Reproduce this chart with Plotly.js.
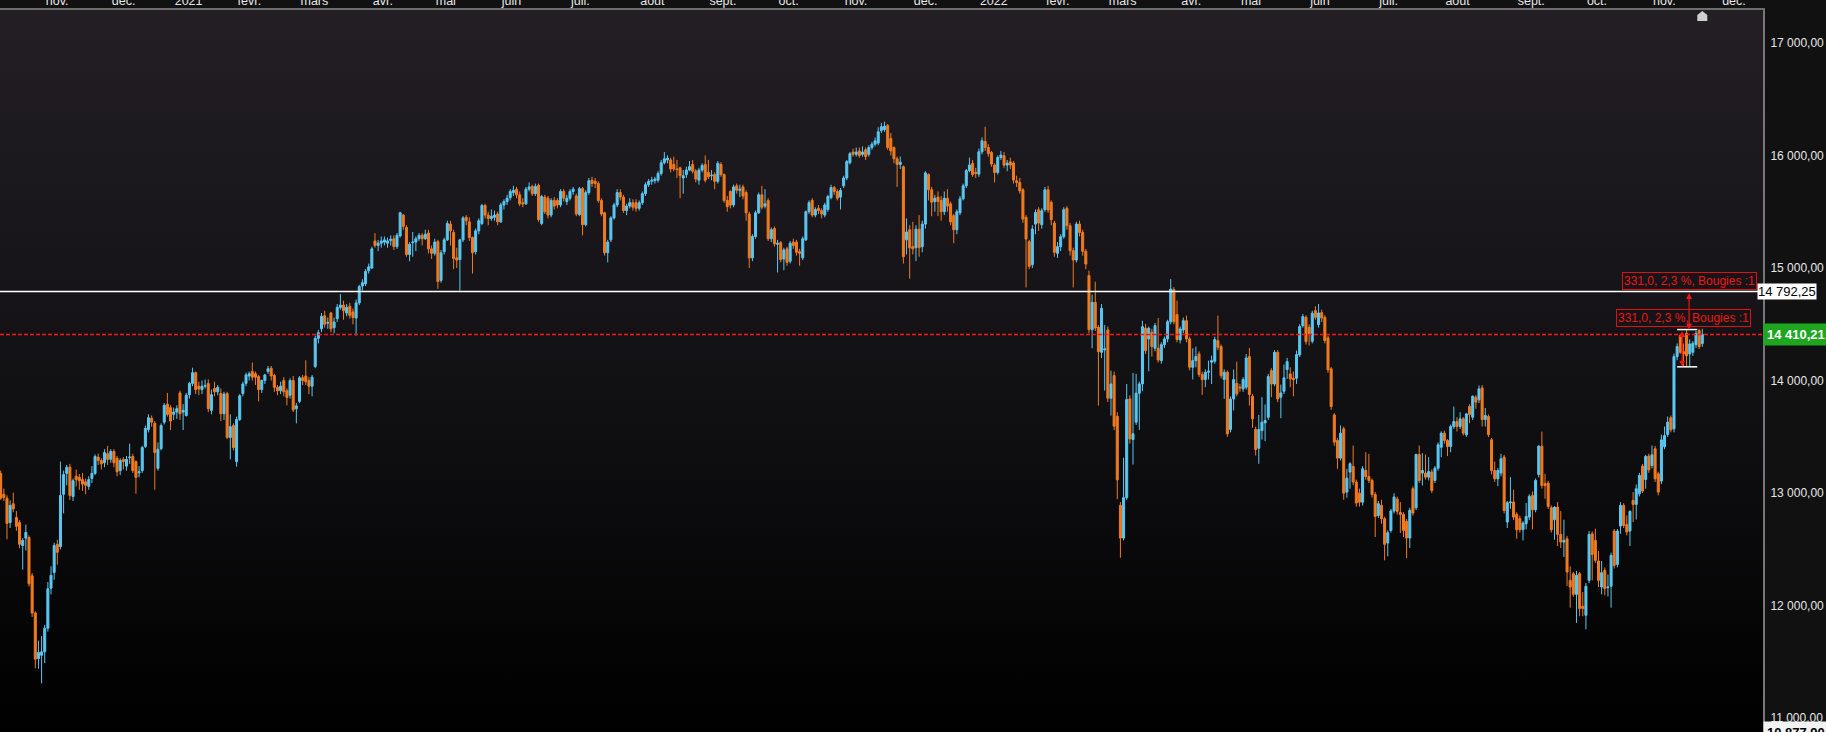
<!DOCTYPE html>
<html>
<head>
<meta charset="utf-8">
<script src="https://cdn.plot.ly/plotly-3.0.1.min.js"></script>
<style>
  html, body { margin: 0; padding: 0; background: #111111; }
  #chart { width: 1826px; height: 732px; }
</style>
</head>
<body>
<div id="chart"></div>
<script>
// ======== DATA (daily bars, one line per month) ========
var OPEN = [
  13175,12990,12955,12740,12905,12785,12740,12535,12600,12605,12265,11935,11530,11560,
  11590,11800,12155,12295,12545,12525,12990,13175,13230,12970,13150,13140,13120,13100,13060,13130,13175,13320,13290,13270,13350,
  13300,13370,13310,13200,13300,13240,13315,13325,13280,13180,13200,13415,13565,13665,13620,13220,13395,13630,13790,13760,
  13700,13720,13890,13720,13690,13875,13975,14070,13950,13920,13950,13975,13735,13930,13900,13885,13705,13885,13495,13600,
  13280,13655,13885,13975,14040,14080,14060,14035,13920,14000,14080,14110,14045,13940,13910,14000,13910,13870,14000,13750,
  13815,14025,14040,14000,13950,14125,14375,14460,14575,14510,14600,14470,14550,14650,14670,14600,14660,14610,14555,14690,14840,14860,14975,
  15000,15240,15200,15220,15230,15220,15245,15260,15190,15285,15470,15360,15120,15225,15230,15260,15290,15260,15310,15170,
  15130,15235,14890,15145,15250,15390,15315,15090,15075,15250,15450,15410,15270,15145,15330,15395,15555,15470,15440,15450,15480,
  15410,15560,15590,15625,15670,15700,15650,15580,15570,15700,15725,15660,15735,15395,15630,15620,15470,15600,15600,15560,15680,15590,
  15620,15680,15640,15475,15705,15385,15670,15780,15770,15750,15600,15490,15135,15250,15445,15560,15670,15630,15510,15550,15580,15580,
  15530,15580,15660,15740,15770,15775,15780,15840,15935,15960,15960,15920,15880,15890,15800,15830,15870,15920,15860,15780,15870,15920,
  15850,15820,15830,15770,15920,15830,15600,15680,15560,15730,15690,15720,15670,15480,15090,15280,15490,15650,15550,15600,15260,15350,
  15210,15225,15080,15170,15060,15230,15230,15145,15090,15250,15500,15600,15470,15530,15510,15470,15520,15625,15715,15680,15630,
  15730,15800,15935,16030,16010,16040,16010,16050,16010,16070,16100,16110,16220,16230,16265,16150,16070,15970,15920,15900,15250,15340,
  15190,15180,15345,15190,15390,15830,15695,15590,15630,15600,15500,15620,15570,15465,15340,15490,15615,15730,15865,15930,15850,
  15834,16032,16124,16071,16026,15914,15849,15982,15997,15914,15943,15932,15775,15760,15695,15450,15233,15030,15390,15518,15385,
  15518,15695,15583,15399,15130,15189,15278,15530,15376,15154,15071,15390,15316,15148,14932,14452,14695,14473,14251,14272,
  14450,13843,14044,13683,12891,12601,12959,13837,13476,13630,13888,13970,14467,14370,14429,14287,14287,14177,14319,14370,14523,14807,14586,
  14361,14450,14532,14370,14118,14177,14237,14053,14009,14074,14163,14171,14355,14302,14009,14074,13565,13837,13976,
  13941,13926,13941,14213,13861,13565,13399,13556,13624,13674,14088,13970,14251,13852,13905,14098,14059,14021,14021,14228,14488,14562,
  14473,14349,14621,14497,14603,14562,14379,14104,13695,13468,13311,13571,13009,13187,13237,13098,13000,12920,13201,13148,13113,12988,
  12802,12891,12773,12557,12669,12841,12947,12829,12811,12749,12601,13039,12870,13343,13178,13178,13142,13187,13113,13222,13408,
  13533,13468,13414,13592,13636,13592,13660,13518,13769,13675,13852,13829,13935,13654,13681,13474,13201,13127,13178,13320,12743,12915,12921,
  12811,12773,12675,12728,12787,12980,12852,13166,13417,13083,13089,12870,12764,12876,12634,12565,12595,12225,12284,12101,12284,11995,
  11915,12225,12639,12580,12397,12166,12314,12160,12172,12663,12367,12707,12891,12722,12663,12935,12900,12994,13240,13121,13329,
  13246,13394,13172,13107,13414,13521,13669,13571,14213,14399,14257,14420,14237,14251,14320,14444,14330
];
var HIGH = [
  13200,13040,12980,12935,13005,12840,12760,12600,12720,12625,12290,11950,11690,11730,
  11830,12210,12350,12560,12585,13280,13200,13250,13260,13130,13210,13170,13180,13130,13150,13240,13345,13350,13310,13390,13420,
  13390,13390,13330,13310,13320,13330,13440,13350,13290,13240,13420,13600,13700,13690,13640,13450,13620,13800,13890,13780,
  13760,13780,13910,13790,13890,13990,14115,14080,13990,14000,14010,14010,13920,13990,13960,13930,13900,13900,13700,13620,
  13680,13880,13990,14070,14080,14160,14080,14050,14010,14060,14130,14130,14060,13960,13990,14030,13930,14020,14040,13800,
  14040,14050,14180,14030,14050,14400,14450,14600,14620,14560,14610,14560,14680,14770,14710,14680,14690,14640,14720,14850,14900,14990,15040,
  15190,15310,15250,15280,15280,15270,15290,15290,15310,15500,15480,15380,15230,15320,15280,15310,15310,15340,15340,15200,
  15260,15250,15160,15270,15420,15420,15340,15180,15260,15460,15470,15450,15280,15350,15440,15570,15570,15500,15520,15510,15500,
  15580,15610,15650,15700,15730,15720,15680,15620,15720,15760,15740,15750,15750,15650,15650,15640,15620,15630,15620,15700,15700,15650,
  15700,15720,15660,15720,15720,15690,15800,15810,15800,15770,15620,15500,15250,15460,15580,15700,15700,15650,15570,15620,15610,15610,
  15600,15680,15760,15790,15810,15810,15860,15960,16030,16000,15980,15990,15960,15900,15870,15900,15950,15960,15880,15890,15930,16000,
  15960,15870,15850,15950,15940,15840,15640,15690,15740,15750,15740,15740,15690,15500,15300,15510,15670,15730,15700,15620,15360,15370,
  15250,15240,15180,15190,15240,15260,15250,15170,15280,15510,15600,15620,15540,15560,15530,15580,15650,15740,15730,15700,15710,
  15820,15960,16030,16060,16070,16070,16080,16070,16090,16120,16160,16250,16290,16300,16280,16200,16080,15990,15990,15910,15440,15380,
  15410,15380,15470,15420,15860,15840,15720,15650,15680,15640,15680,15700,15590,15480,15520,15640,15750,15880,15980,15960,15890,
  16060,16160,16254,16100,16040,15930,16000,16040,16030,15960,15980,15950,15820,15800,15710,15470,15250,15380,15520,15540,15530,
  15720,15730,15600,15420,15230,15300,15540,15550,15400,15180,15410,15420,15340,15170,14976,14763,14878,14494,14680,14494,
  14480,14088,14080,13720,12920,13314,13970,13870,14068,14059,13991,14532,14503,14480,14460,14510,14556,14340,14390,14540,14902,14830,14710,
  14480,14560,14577,14390,14287,14302,14260,14080,14100,14177,14222,14390,14577,14320,14100,14090,13860,14097,14168,
  13970,14030,14236,14290,13880,13590,13695,13852,13787,14060,14109,14270,14270,13964,14142,14201,14118,14080,14266,14500,14592,14580,
  14500,14620,14660,14680,14630,14580,14400,14120,13710,13490,13601,13590,13216,13275,13423,13120,13040,13240,13364,13349,13130,13010,
  12930,12941,12790,12669,12860,12999,12970,12920,12830,12770,12870,13060,13350,13423,13355,13343,13320,13210,13240,13450,13550,
  13556,13480,13610,13769,13675,13719,13675,13710,13790,13867,13870,13956,13960,13757,13700,13490,13281,13222,13349,13340,12930,13142,13030,
  12830,12800,12750,12912,12990,13015,13130,13425,13547,13172,13110,12890,12882,12920,12840,12764,12620,12350,12300,12309,12300,12122,
  12201,12663,12660,12684,12485,12397,12340,12278,12471,12680,12680,12920,12910,12802,12846,13009,13077,13180,13260,13340,13350,
  13423,13420,13190,13520,13592,13680,13690,14240,14330,14414,14330,14453,14365,14350,14440,14460,14460
];
var LOW = [
  12940,12930,12590,12690,12830,12665,12510,12320,12490,12170,11900,11445,11440,11310,
  11490,11770,12100,12230,12365,12500,12820,13070,12940,12930,13060,13030,13020,12990,13030,13090,13160,13250,13210,13230,13250,
  13270,13230,13150,13160,13210,13200,13260,13180,12995,13140,13180,13400,13540,13590,13030,13200,13380,13610,13680,13560,
  13650,13660,13650,13560,13680,13840,13950,13880,13870,13880,13930,13720,13700,13860,13870,13640,13650,13480,13300,13380,
  13235,13640,13860,13950,14000,14000,13960,13815,13890,13970,14060,14000,13900,13870,13880,13860,13780,13840,13720,13620,
  13800,13960,13960,13880,13860,14110,14330,14430,14470,14460,14430,14420,14520,14630,14540,14570,14550,14500,14400,14670,14800,14840,14950,
  14990,15180,15150,15180,15200,15180,15200,15160,15170,15270,15340,15100,15060,15100,15150,15240,15200,15250,15130,15080,
  15110,14815,14870,15120,15240,15200,14990,15000,14800,15230,15380,15240,14950,15120,15300,15380,15440,15380,15420,15420,15380,
  15400,15520,15560,15600,15640,15620,15550,15540,15560,15680,15640,15640,15410,15380,15480,15440,15450,15520,15530,15540,15590,15560,
  15600,15650,15460,15460,15290,15370,15650,15720,15710,15580,15460,15110,15050,15230,15430,15540,15600,15490,15470,15530,15510,15500,
  15510,15560,15640,15720,15740,15750,15760,15820,15920,15930,15850,15860,15800,15620,15660,15800,15860,15840,15760,15740,15850,15760,
  15790,15780,15700,15750,15810,15580,15500,15530,15540,15660,15630,15610,15420,15000,15060,15260,15480,15520,15530,15240,15230,15190,
  14960,15050,14980,15020,15040,15170,15110,15020,15070,15240,15480,15450,15450,15480,15440,15450,15500,15610,15650,15600,15520,
  15710,15780,15920,15990,15990,15980,15990,15960,15990,16050,16080,16090,16200,16210,16050,16000,15930,15720,15880,15040,15120,14905,
  15120,15060,15100,15140,15350,15600,15460,15500,15460,15420,15470,15500,15380,15220,15300,15470,15600,15710,15850,15810,15800,
  15810,16010,16040,15990,15900,15760,15830,15960,15890,15860,15880,15750,15720,15660,15400,14828,14990,15000,15300,15330,15350,
  15500,15490,15380,15100,15090,15150,15260,15340,15110,14828,15050,15280,15110,14990,14420,14287,14440,13778,14200,13911,
  13810,13689,13560,12947,12426,12580,12940,13440,13254,13606,13562,13905,14236,14083,14213,14260,14160,14150,14290,14340,14500,14500,14340,
  14330,14420,14340,14090,14009,14118,14030,13873,13941,14009,13970,14150,14270,14020,13837,13500,13540,13734,13860,
  13900,13900,13920,13778,13580,13334,13260,13476,13462,13650,13852,13950,13808,13666,13880,14015,13941,13861,13970,14210,14470,14320,
  14311,14330,14540,14470,14520,14330,14070,13740,13420,13216,13290,12941,12959,13039,13070,12880,12880,12890,13120,13090,12960,12610,
  12780,12728,12403,12438,12650,12820,12810,12645,12610,12423,12512,12800,12850,13090,13068,13120,13113,13000,13090,13200,13320,
  13440,13329,13364,13570,13548,13570,13512,13500,13621,13650,13749,13800,13592,13592,13497,13166,13100,13062,13150,12820,12690,12861,12760,
  12595,12650,12580,12678,12760,12678,12830,13140,13040,12950,12860,12650,12586,12530,12512,12432,12175,11982,12080,11847,11906,11906,
  11790,12200,12225,12380,12166,12101,12092,12083,11983,12330,12340,12639,12690,12625,12530,12743,12766,12970,13000,13039,13180,
  13220,13100,12980,13080,13390,13500,13540,13540,14180,14237,14120,14122,14118,14220,14290,14280,14300
];
var CLOSE = [
  12955,12960,12730,12890,12860,12705,12545,12580,12650,12195,11935,11525,11585,11590,
  11800,12150,12270,12535,12475,12980,13165,13230,12980,13110,13120,13110,13080,13070,13120,13175,13325,13290,13260,13360,13300,
  13370,13270,13190,13290,13280,13300,13320,13200,13140,13190,13405,13575,13670,13630,13360,13390,13600,13780,13700,13640,
  13720,13750,13705,13735,13870,13975,14070,13920,13925,13950,13955,13750,13875,13900,13940,13705,13880,13495,13590,13405,
  13655,13865,13970,14050,14060,14030,14030,13920,14000,14050,14105,14040,13940,13910,13950,13900,13850,14000,13740,13775,
  14025,14000,13990,13950,14030,14375,14425,14570,14500,14515,14460,14520,14650,14670,14620,14650,14580,14560,14690,14835,14870,14970,15010,
  15170,15200,15220,15240,15250,15240,15255,15190,15290,15490,15370,15120,15210,15230,15260,15290,15260,15300,15170,15130,
  15230,14880,15135,15250,15395,15330,15085,15070,15250,15445,15420,15270,15135,15330,15420,15555,15470,15440,15460,15470,15410,
  15560,15590,15620,15680,15690,15650,15570,15570,15700,15720,15660,15725,15430,15635,15500,15470,15600,15550,15560,15680,15620,15620,
  15680,15700,15480,15705,15385,15670,15775,15750,15750,15600,15480,15135,15230,15445,15560,15670,15630,15510,15550,15580,15540,15530,
  15580,15660,15740,15770,15780,15790,15840,15935,15970,15975,15880,15880,15875,15820,15820,15870,15900,15860,15790,15870,15910,15780,
  15810,15825,15770,15930,15830,15600,15545,15560,15720,15690,15700,15640,15490,15090,15280,15490,15650,15540,15570,15260,15340,15215,
  15220,15075,15160,15050,15220,15200,15140,15130,15260,15500,15580,15470,15520,15510,15480,15560,15635,15715,15680,15620,15690,
  15800,15945,16015,16010,16030,16000,16030,15990,16070,16100,16130,16210,16255,16260,16070,16040,15970,15920,15940,15100,15320,15180,
  15170,15345,15180,15390,15845,15695,15585,15620,15590,15500,15620,15550,15410,15340,15500,15615,15730,15865,15915,15830,15840,
  16032,16130,16071,16017,15923,15849,15982,16003,15914,15932,15914,15781,15760,15686,15435,15257,15015,15346,15494,15399,15509,
  15695,15515,15429,15139,15189,15278,15518,15376,15154,15071,15390,15316,15148,15035,14452,14695,14467,14257,14642,14281,
  13843,13970,13595,13118,12601,12959,13831,13482,13527,13888,13970,14479,14266,14464,14302,14488,14183,14319,14370,14523,14813,14523,14364,
  14458,14532,14370,14118,14177,14213,14053,14009,14074,14083,14177,14364,14296,14044,14074,13527,13837,14009,13882,
  13935,14009,14201,13876,13660,13388,13565,13630,13645,14035,13970,14251,13837,13890,14024,14168,14015,14009,14231,14479,14568,14346,
  14414,14598,14562,14600,14556,14355,14095,13769,13453,13311,13533,13000,13133,13261,13098,12912,12920,13216,13148,13113,12988,12793,
  12906,12773,12545,12648,12841,12965,12838,12811,12669,12601,12847,12823,13343,13113,13201,13142,13193,13024,13222,13429,13533,
  13468,13414,13592,13636,13592,13660,13533,13704,13698,13861,13808,13926,13654,13690,13521,13201,13127,13201,13305,12846,12915,12921,12787,
  12675,12675,12734,12793,12971,12852,13113,13417,13068,13068,12882,12675,12876,12634,12565,12580,12299,12166,12101,12270,11974,11974,
  12172,12633,12456,12403,12225,12293,12151,12166,12447,12358,12663,12891,12713,12654,12838,12900,13039,13157,13018,13326,13207,
  13340,13127,13009,13473,13512,13630,13562,14213,14302,14251,14237,14220,14325,14331,14420,14302,14410
];

// exchange calendar used for the month ticks
var FIRST_DAY = '2020-10-13';
var HOLIDAYS = ['2020-12-24','2020-12-25','2020-12-31','2021-01-01','2021-04-02','2021-04-05',
                '2021-12-24','2021-12-31','2022-04-15','2022-04-18'];
var MONTHS = ['janv.','févr.','mars','avr.','mai','juin','juil.','août','sept.','oct.','nov.','déc.'];

var PRICE_TICKS = [11000, 12000, 13000, 14000, 15000, 16000, 17000];
var LAST_PRICE = 14410.21;
var LEVEL_LINE = 14792.25;
var AXIS_MIN = 10877.90;
var AXIS_MAX = 17292;
var MEASURE_TEXT = '331,0, 2,3 %, Bougies :1';
var MEASURED_BAR = 536;

var UP = '#5ac8f2';
var DOWN = '#f27b1f';

// ======== helpers ========
function frPrice(v) {
  var s = v.toFixed(2).split('.');
  return s[0].replace(/\B(?=(\d{3})+(?!\d))/g, ' ') + ',' + s[1];
}

function tradingDays(start, count) {
  var out = [];
  var d = new Date(start + 'T12:00:00Z');
  while (out.length < count) {
    var wd = d.getUTCDay();
    var s = d.toISOString().slice(0, 10);
    if (wd !== 0 && wd !== 6 && HOLIDAYS.indexOf(s) < 0) out.push(s);
    d.setUTCDate(d.getUTCDate() + 1);
  }
  return out;
}

var n = Math.min(OPEN.length, HIGH.length, LOW.length, CLOSE.length);
var idx = [];
for (var i = 0; i < n; i++) idx.push(i);

var days = tradingDays(FIRST_DAY, n + 25);
var tickvals = [], ticktext = [];
for (var k = 1; k < days.length; k++) {
  var m = +days[k].slice(5, 7) - 1;
  if (days[k].slice(5, 7) !== days[k - 1].slice(5, 7)) {
    tickvals.push(k);
    ticktext.push(m === 0 ? days[k].slice(0, 4) : MONTHS[m]);
  }
}

// ======== PLOT ========
var trace = {
  type: 'candlestick',
  x: idx,
  open: OPEN.slice(0, n), high: HIGH.slice(0, n), low: LOW.slice(0, n), close: CLOSE.slice(0, n),
  increasing: { line: { color: UP, width: 1 }, fillcolor: UP },
  decreasing: { line: { color: DOWN, width: 1 }, fillcolor: DOWN },
  whiskerwidth: 0,
  hoverinfo: 'skip',
  showlegend: false
};

var bgSvg = "<svg xmlns='http://www.w3.org/2000/svg' width='10' height='100' viewBox='0 0 10 100' preserveAspectRatio='none'>" +
  "<defs><linearGradient id='g' x1='0' y1='0' x2='0' y2='1'>" +
  "<stop offset='0' stop-color='#231f25'/><stop offset='0.5' stop-color='#121114'/><stop offset='1' stop-color='#000000'/>" +
  "</linearGradient></defs><rect width='10' height='100' fill='url(#g)'/></svg>";

var red = '#f01414';
var mb = MEASURED_BAR;

var layout = {
  width: 1826,
  height: 732,
  margin: { l: 0, r: 63, t: 10, b: 0, pad: 0 },
  paper_bgcolor: '#111111',
  plot_bgcolor: '#000000',
  font: { family: 'Liberation Sans, Arial, sans-serif', color: '#e6e6e6' },
  boxgap: 0.2,
  boxgroupgap: 0.2,
  showlegend: false,
  xaxis: {
    type: 'linear',
    side: 'top',
    range: [-0.22, 560.3],
    rangeslider: { visible: false },
    tickmode: 'array',
    tickvals: tickvals,
    ticktext: ticktext,
    ticks: '',
    ticklabelposition: 'outside right',
    ticklabelstandoff: -2,
    tickfont: { size: 12.5, color: '#e6e6e6' },
    showgrid: false,
    zeroline: false,
    showline: true,
    linecolor: '#6e6e6e',
    linewidth: 2,
    fixedrange: true
  },
  yaxis: {
    side: 'right',
    range: [AXIS_MIN, AXIS_MAX],
    tickmode: 'array',
    tickvals: PRICE_TICKS,
    ticktext: PRICE_TICKS.map(frPrice),
    ticks: '',
    ticklabelstandoff: 3,
    tickfont: { size: 12, color: '#e6e6e6' },
    showgrid: false,
    zeroline: false,
    showline: true,
    linecolor: '#777777',
    linewidth: 2,
    fixedrange: true
  },
  images: [{
    source: 'data:image/svg+xml;charset=utf-8,' + encodeURIComponent(bgSvg),
    xref: 'paper', yref: 'paper', x: 0, y: 1, sizex: 1, sizey: 1,
    xanchor: 'left', yanchor: 'top', sizing: 'stretch', layer: 'below'
  }],
  shapes: [
    { type: 'line', xref: 'paper', x0: 0, x1: 1, yref: 'y', y0: LEVEL_LINE, y1: LEVEL_LINE,
      line: { color: '#ffffff', width: 1.5 } },
    { type: 'line', xref: 'paper', x0: 0, x1: 1, yref: 'y', y0: LAST_PRICE, y1: LAST_PRICE,
      line: { color: '#ff1414', width: 1.5, dash: '4px,2px' } },
    // measuring bracket round the measured bar
    { type: 'line', xref: 'x', x0: mb - 3, x1: mb + 3.4, yref: 'y', y0: HIGH[mb], y1: HIGH[mb],
      line: { color: '#ffffff', width: 1.5 } },
    { type: 'line', xref: 'x', x0: mb - 3, x1: mb + 3.4, yref: 'y', y0: LOW[mb], y1: LOW[mb],
      line: { color: '#ffffff', width: 1.5 } },
    // small "home" marker above the last bar
    { type: 'path', xref: 'x', xsizemode: 'pixel', xanchor: n - 1, yref: 'paper', ysizemode: 'pixel', yanchor: 1,
      path: 'M-5,-11 L5,-11 L5,-5 L0,-1 L-5,-5 Z', fillcolor: '#cfcfcf', line: { width: 0 } }
  ],
  annotations: [
    { xref: 'x', yref: 'y', x: mb - 1.4, y: LOW[mb], axref: 'x', ayref: 'y', ax: mb - 1.4, ay: HIGH[mb],
      text: '', showarrow: true, arrowside: 'end+start', arrowhead: 2, startarrowhead: 2,
      arrowsize: 1, arrowwidth: 1.2, arrowcolor: red, standoff: 0, startstandoff: 0 },
    { xref: 'x', yref: 'y', x: mb + 0.8, y: HIGH[mb], axref: 'x', ayref: 'y', ax: mb + 0.8, ay: LEVEL_LINE,
      text: '', showarrow: true, arrowside: 'end+start', arrowhead: 2, startarrowhead: 2,
      arrowsize: 1, arrowwidth: 1.2, arrowcolor: red, standoff: 0, startstandoff: 0 },
    { xref: 'paper', yref: 'y', x: 1622 / 1763, y: 14883, xanchor: 'left', yanchor: 'middle',
      text: MEASURE_TEXT, showarrow: false, font: { size: 12, color: red },
      bordercolor: '#e01010', borderwidth: 1, borderpad: 1 },
    { xref: 'paper', yref: 'y', x: 1616 / 1763, y: 14559, xanchor: 'left', yanchor: 'middle',
      text: MEASURE_TEXT, showarrow: false, font: { size: 12, color: red },
      bordercolor: '#e01010', borderwidth: 1, borderpad: 1 },
    { xref: 'paper', yref: 'y', x: 1757 / 1763, y: LEVEL_LINE, xanchor: 'left', yanchor: 'middle',
      text: frPrice(LEVEL_LINE), showarrow: false, font: { size: 13, color: '#000000' },
      bgcolor: '#ffffff', borderpad: 0 },
    { xref: 'paper', yref: 'y', x: 1, y: LAST_PRICE, xanchor: 'left', yanchor: 'middle',
      text: '<b>' + frPrice(LAST_PRICE) + '</b>', showarrow: false, font: { size: 13, color: '#ffffff' },
      bgcolor: '#1fa61f', borderpad: 3 },
    { xref: 'paper', yref: 'y', x: 1, y: AXIS_MIN, xanchor: 'left', yanchor: 'middle',
      text: '<b>' + frPrice(AXIS_MIN) + '</b>', showarrow: false, font: { size: 13, color: '#000000' },
      bgcolor: '#f2f2f2', borderpad: 3 }
  ]
};

Plotly.newPlot('chart', [trace], layout, { displayModeBar: false, staticPlot: true });
</script>
</body>
</html>
